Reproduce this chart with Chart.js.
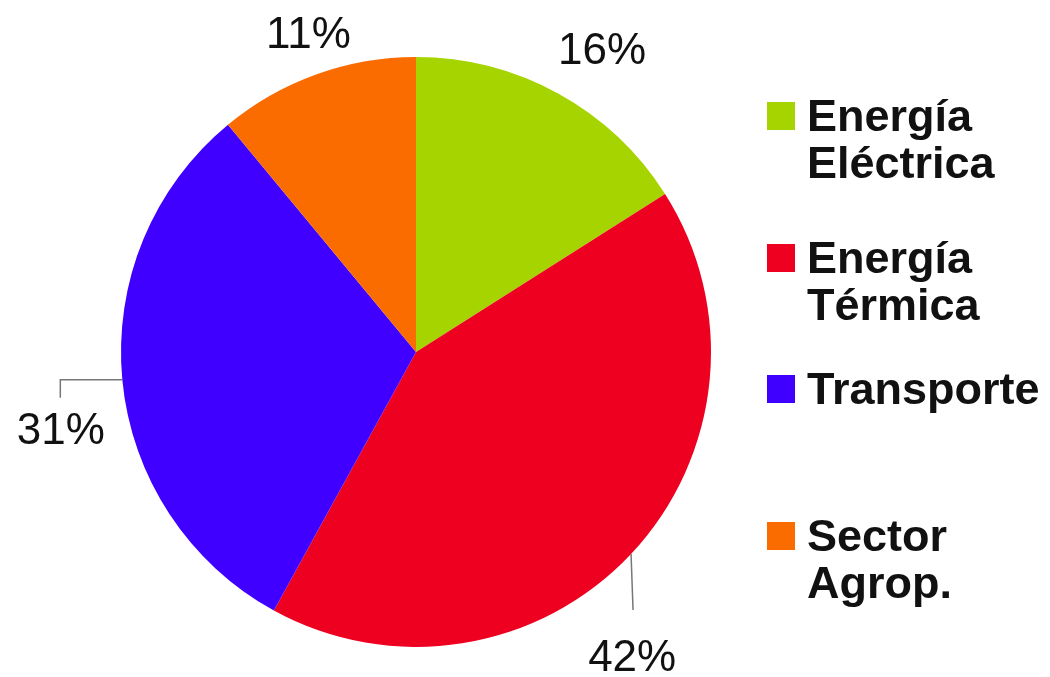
<!DOCTYPE html>
<html>
<head>
<meta charset="utf-8">
<script src="https://cdn.jsdelivr.net/npm/chart.js@4/dist/chart.umd.min.js"></script>
<style>
    html, body { margin: 0; padding: 0; background: #fff; }
    #wrap { width: 1050px; height: 677px; position: relative; }
</style>
</head>
<body>
<div id="wrap"><canvas id="pieChart" width="1050" height="677"></canvas></div>
<script>
const categories = [['Energía', 'Eléctrica'], ['Energía', 'Térmica'], ['Transporte'], ['Sector', 'Agrop.']];
const shares = [16, 42, 31, 11];
const colors = ['#a6d400', '#ee0020', '#4000ff', '#fb6c00'];

// label placement around the pie: angle tweak (deg) and distance from centre
const labelAngleShift = [3, 11.6, -7.3, 1];
const labelDistance = [353, 375, 364, 334];

const FONT = '"Liberation Sans", Arial, sans-serif';

const labelsPlugin = {
    id: 'outerLabels',
    afterDatasetsDraw(chart) {
        const ctx = chart.ctx;
        const arcs = chart.getDatasetMeta(0).data;
        ctx.save();
        arcs.forEach((arc, i) => {
            const p = arc.getProps(['x', 'y', 'startAngle', 'endAngle', 'outerRadius'], true);
            const mid = (p.startAngle + p.endAngle) / 2;
            const a = mid + labelAngleShift[i] * Math.PI / 180;
            const lx = p.x + Math.cos(a) * labelDistance[i];
            const ly = p.y + Math.sin(a) * labelDistance[i];

            // leader lines for the two side labels
            ctx.strokeStyle = '#777';
            ctx.lineWidth = 1.5;
            const ex = p.x + Math.cos(mid) * p.outerRadius;
            const ey = p.y + Math.sin(mid) * p.outerRadius;
            if (i === 2) {
                ctx.beginPath();
                ctx.moveTo(ex, ey);
                ctx.lineTo(ex - 62, ey);
                ctx.lineTo(ex - 62, ey + 18);
                ctx.stroke();
            } else if (i === 1) {
                ctx.beginPath();
                ctx.moveTo(ex, ey);
                ctx.lineTo(ex + 2, ey + 56);
                ctx.stroke();
            }

            ctx.fillStyle = '#111';
            ctx.font = '44px ' + FONT;
            ctx.textAlign = 'center';
            ctx.textBaseline = 'middle';
            ctx.fillText(shares[i] + '%', lx, ly);
        });
        ctx.restore();
    }
};

const legendPlugin = {
    id: 'sideLegend',
    afterDraw(chart) {
        const ctx = chart.ctx;
        ctx.save();
        ctx.font = 'bold 45px ' + FONT;
        ctx.textAlign = 'left';
        ctx.textBaseline = 'alphabetic';
        const tops = [100, 242, 373, 520];
        categories.forEach((lines, i) => {
            const top = tops[i];
            ctx.fillStyle = colors[i];
            ctx.fillRect(767, top + 2, 28, 28);
            ctx.fillStyle = '#111';
            lines.forEach((t, j) => {
                ctx.fillText(t, 807, top + 31 + j * 47);
            });
        });
        ctx.restore();
    }
};

new Chart(document.getElementById('pieChart'), {
    type: 'pie',
    data: {
        labels: categories.map(l => l.join(' ')),
        datasets: [{
            data: shares,
            backgroundColor: colors,
            borderWidth: 0
        }]
    },
    options: {
        responsive: false,
        animation: false,
        layout: { padding: { left: 121, right: 339, top: 57, bottom: 30 } },
        plugins: {
            legend: { display: false },
            tooltip: { enabled: false }
        }
    },
    plugins: [labelsPlugin, legendPlugin]
});
</script>
</body>
</html>
